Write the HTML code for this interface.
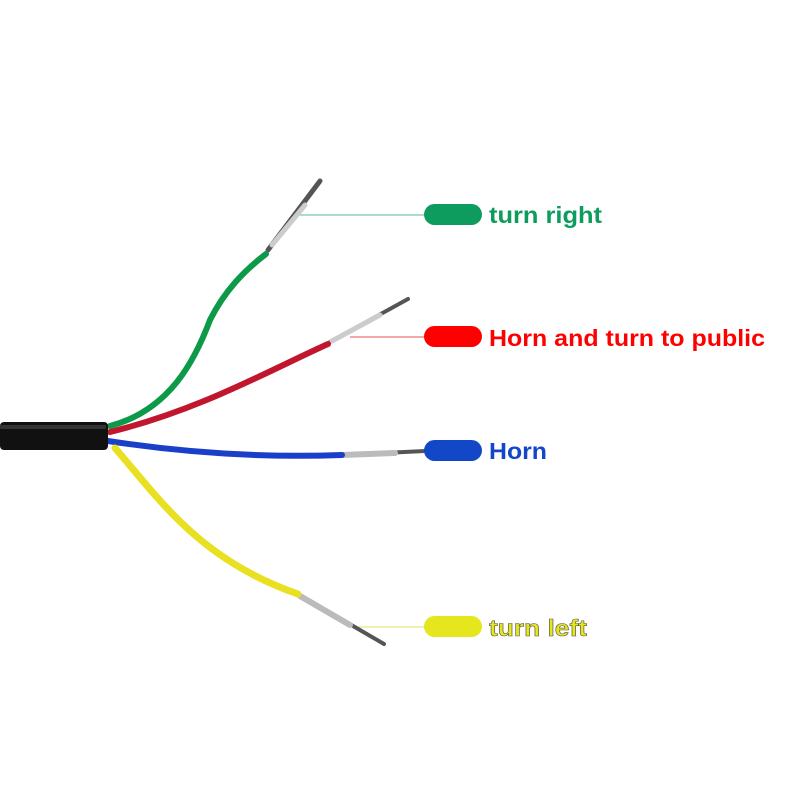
<!DOCTYPE html>
<html><head><meta charset="utf-8"><style>
html,body{margin:0;padding:0;background:#fff;width:800px;height:800px;overflow:hidden}
svg text{font-family:"Liberation Sans",Arial,sans-serif;font-weight:bold}
</style></head><body>
<svg width="800" height="800" viewBox="0 0 800 800" xmlns="http://www.w3.org/2000/svg">
<rect width="800" height="800" fill="#fff"/>
<!-- leader lines -->
<line x1="300" y1="215" x2="425" y2="215" stroke="#5fb98f" stroke-width="1"/>
<line x1="350" y1="337" x2="425" y2="337" stroke="#e05050" stroke-width="1"/>
<line x1="350" y1="627" x2="425" y2="627" stroke="#e0e060" stroke-width="1"/>
<!-- terminals -->
<g stroke-linecap="round">
<line x1="268" y1="250" x2="320" y2="181" stroke="#555" stroke-width="5"/>
<line x1="272" y1="245" x2="305" y2="205" stroke="#ccc" stroke-width="5"/>
<line x1="330" y1="342" x2="408" y2="299" stroke="#555" stroke-width="4"/>
<line x1="332" y1="341" x2="380" y2="315" stroke="#ccc" stroke-width="5"/>
<line x1="342" y1="455" x2="425" y2="451" stroke="#555" stroke-width="4"/>
<line x1="342" y1="455" x2="395" y2="453" stroke="#bbb" stroke-width="6"/>
<line x1="298" y1="594" x2="384" y2="644" stroke="#555" stroke-width="4"/>
<line x1="300" y1="596" x2="350" y2="625" stroke="#bbb" stroke-width="6"/>
</g>
<!-- wires -->
<g fill="none" stroke-linecap="round">
<path d="M110 426 C170 410 195 360 210 320 C225 290 245 270 266 254" stroke="#0c9a48" stroke-width="6"/>
<path d="M110 432 C200 410 270 370 328 344" stroke="#c0162e" stroke-width="6"/>
<path d="M108 441 C180 452 260 458 342 455" stroke="#1a3fc8" stroke-width="6"/>
<path d="M115 448 C160 500 200 560 298 594" stroke="#e8e020" stroke-width="7"/>
</g>
<!-- cable -->
<rect x="0" y="422" width="108" height="28" rx="4" fill="#111"/>
<rect x="0" y="425" width="106" height="4" fill="#333"/>
<!-- pills -->
<rect x="424" y="204" width="58" height="21" rx="10.5" fill="#0e9c5e"/>
<rect x="424" y="326" width="58" height="21" rx="10.5" fill="#ff0000"/>
<rect x="424" y="440" width="58" height="21" rx="10.5" fill="#1248c8"/>
<rect x="424" y="616" width="58" height="21" rx="10.5" fill="#e6e61e"/>
<!-- labels -->
<text x="489" y="223" font-size="23" fill="#0e9c5e" textLength="113" lengthAdjust="spacingAndGlyphs">turn right</text>
<text x="489" y="346" font-size="23" fill="#ff0000" textLength="276" lengthAdjust="spacingAndGlyphs">Horn and turn to public</text>
<text x="489" y="459" font-size="23" fill="#1248c8" textLength="58" lengthAdjust="spacingAndGlyphs">Horn</text>
<text x="489" y="636" font-size="23" fill="#e6e61e" stroke="#555" stroke-width="0.6" textLength="98" lengthAdjust="spacingAndGlyphs">turn left</text>
</svg>
</body></html>
